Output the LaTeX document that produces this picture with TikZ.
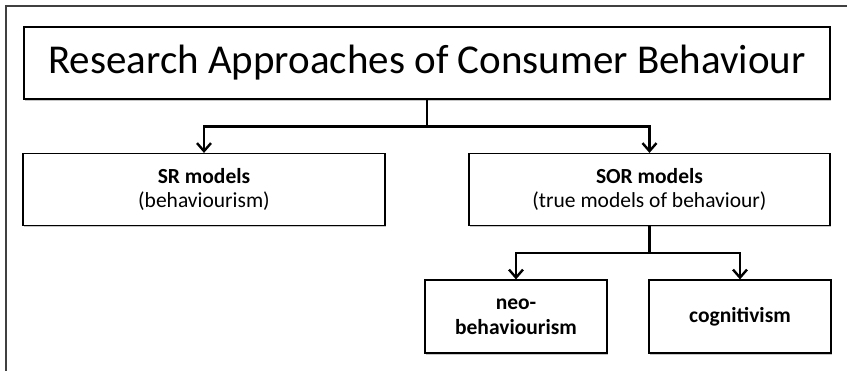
\documentclass[tikz,border=0pt]{standalone}
\usepackage{fontspec}
\setmainfont{Carlito}
\usetikzlibrary{arrows.meta,shadows}
\begin{document}
\begin{tikzpicture}[x=1pt,y=1pt,
  box/.style={draw=black, line width=1.2pt, fill=white, rectangle, align=center,
    inner sep=0pt, minimum height=72pt,
    drop shadow={shadow xshift=1.2pt, shadow yshift=-1.8pt, fill=black!50, opacity=0.45}},
  conn/.style={draw=black, line width=2.6pt,
    -{Straight Barb[length=8pt,width=14pt,line width=2.4pt]}},
  frameline/.style={draw=black!75, line width=1.4pt}
]
\useasboundingbox (0,0) rectangle (847,-370);
\coordinate (f1) at (6,-373);
\coordinate (f2) at (6,-6);
\coordinate (f3) at (850,-6);
\draw[frameline] (f1) -- (f2) -- (f3);

\node[box, minimum width=806pt, font=\fontsize{41}{48}\selectfont] (title) at (427,-63) {Research Approaches of Consumer Behaviour};

\node[box, minimum width=362pt, font=\fontsize{21.5}{24.5}\selectfont] (sr) at (204,-189.5) {\textbf{SR models}\\(behaviourism)};
\node[box, minimum width=361pt, font=\fontsize{21.5}{24.5}\selectfont] (sor) at (649.5,-189.5) {\textbf{SOR models}\\(true models of behaviour)};

\node[box, minimum width=182pt, minimum height=73pt, font=\bfseries\fontsize{21.5}{25}\selectfont] (neo) at (516,-316.5) {neo-\\behaviourism};
\node[box, minimum width=182pt, minimum height=73pt, font=\bfseries\fontsize{21.5}{25}\selectfont] (cog) at (740,-316.5) {cognitivism};

\draw[conn] (title.south) -- ++(0,-27) -| (sr.north);
\draw[conn] (title.south) -- ++(0,-27) -| (sor.north);
\draw[conn] (sor.south) -- ++(0,-27) -| (neo.north);
\draw[conn] (sor.south) -- ++(0,-27) -| (cog.north);
\end{tikzpicture}
\end{document}
